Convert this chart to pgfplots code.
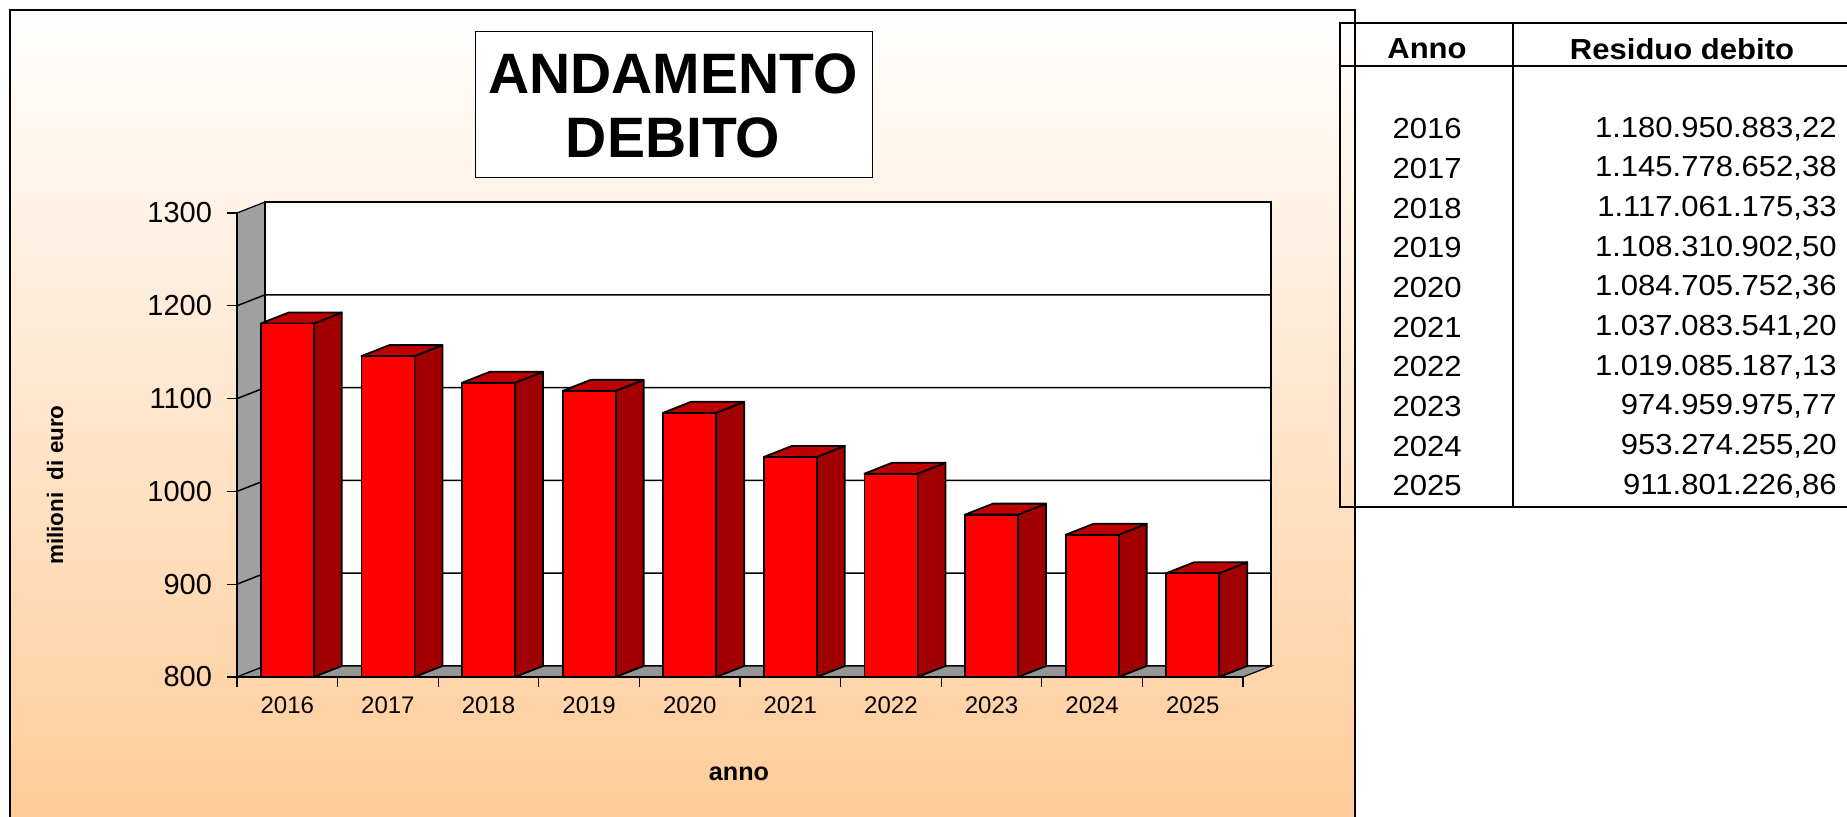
\documentclass[border=0pt]{standalone}
\usepackage{fontspec}
\setmainfont{Liberation Sans}
\usepackage{graphicx}
\usepackage{pgfplots}
\pgfplotsset{compat=1.18}
\usepackage{pgfplotstable}

\definecolor{peach}{RGB}{255,204,153}
\definecolor{barfront}{RGB}{255,0,0}
\definecolor{barside}{RGB}{160,0,0}
\definecolor{bartop}{RGB}{192,0,0}
\definecolor{wallgray}{RGB}{160,160,160}
\definecolor{floorgray}{RGB}{150,150,150}

\pgfdeclareplotmark{nothing}{}

\pgfplotstableread{
x year v
0 2016 1180.95
1 2017 1145.78
2 2018 1117.06
3 2019 1108.31
4 2020 1084.71
5 2021 1037.08
6 2022 1019.09
7 2023 974.96
8 2024 953.27
9 2025 911.80
}\debito

\newcommand{\tabfont}{\fontsize{14.5pt}{16pt}\selectfont}
\newcommand{\tx}[1]{\scalebox{1.07}[1]{#1}}

\begin{document}
\begin{tikzpicture}
\fill[white] (0,0) rectangle (923.5pt,408pt);
\begin{scope}[yshift=408pt, x=0.5pt, y=-0.5pt]
  % panel
  \shade[top color=white, bottom color=peach] (10,10) rectangle (1355,816);
  \draw[line width=0.8pt] (10,818) -- (10,10) -- (1355,10) -- (1355,818);
  % title
  \draw[fill=white, line width=0.5pt] (475,32) rectangle (872,177);
  \node[font=\bfseries\fontsize{28.5pt}{30pt}\selectfont, inner sep=0pt] at (673,74) {ANDAMENTO};
  \node[font=\bfseries\fontsize{28.5pt}{30pt}\selectfont, inner sep=0pt] at (673,138) {DEBITO};
  % walls
  \filldraw[fill=wallgray, line width=0.6pt] (237,677) -- (237,213) -- (265,202) -- (265,666) -- cycle;
  \filldraw[fill=white, line width=0.6pt] (265,202) rectangle (1271,666);
  \filldraw[fill=floorgray, line width=0.6pt] (237,677) -- (1243,677) -- (1271,666) -- (265,666) -- cycle;
  \foreach \yy in {900,1000,1100,1200} {
    \draw[line width=0.75pt] (237,{677-(\yy-800)*0.928}) -- ++(28,-11) -- (1271,{666-(\yy-800)*0.928});
  }
  % axis titles
  \node[font=\bfseries\fontsize{11.2pt}{13pt}\selectfont, rotate=90, inner sep=0pt] at (55,485) {milioni\ \ di euro};
  \node[font=\bfseries\fontsize{12.6pt}{14pt}\selectfont, inner sep=0pt] at (739,774) {anno};
\end{scope}

\begin{axis}[
  at={(118.5pt,69.5pt)}, anchor=south west,
  x=50.3pt, y=0.464pt,
  xmin=-0.5, xmax=9.5, ymin=800, ymax=1300,
  clip=false,
  axis x line*=bottom, axis y line*=left,
  axis line style={-, line width=0.8pt, black},
  xtick={0,...,9},
  xticklabels={2016,2017,2018,2019,2020,2021,2022,2023,2024,2025},
  ytick={800,900,...,1300},
  minor xtick={-0.5,0.5,...,9.5},
  minor ytick={800,900,...,1300},
  tick align=outside,
  major tick length=0pt,
  minor tick length=5pt,
  every tick/.style={black, line width=0.6pt},
  /pgf/number format/assume math mode=true,
  /pgf/number format/1000 sep={},
  xticklabel style={font=\fontsize{12pt}{14pt}\selectfont, yshift=-6.5pt},
  yticklabel style={font=\fontsize{14.5pt}{16pt}\selectfont, xshift=-9pt},
]
\addplot[scatter, only marks, mark=nothing,
  point meta=y, point meta min=800, point meta max=1300,
  scatter/@pre marker code/.code={%
    \pgfmathsetlengthmacro\h{\pgfplotspointmetatransformed*0.232pt}%
    \begin{scope}[line width=0.9pt, draw=black, line join=round]
    \filldraw[fill=barside] (13.25pt,0pt) -- ++(14pt,5.5pt) -- ++(0pt,-\h) -- (13.25pt,-\h) -- cycle;
    \filldraw[fill=bartop] (-13.25pt,0pt) -- (13.25pt,0pt) -- ++(14pt,5.5pt) -- ++(-26.5pt,0pt) -- cycle;
    \filldraw[fill=barfront] (-13.25pt,-\h) rectangle (13.25pt,0pt);
    \end{scope}%
  },
  scatter/@post marker code/.code={},
] table[x=x, y=v] {\debito};
\end{axis}

\begin{scope}[yshift=408pt, x=0.5pt, y=-0.5pt]
  \draw[line width=1pt] (1850,23) -- (1340,23) -- (1340,507) -- (1850,507);
  \draw[line width=1pt] (1340,66) -- (1850,66);
  \draw[line width=1pt] (1513,23) -- (1513,507);
  \node[font=\bfseries\tabfont, inner sep=0pt] at (1427,49) {\tx{Anno}};
  \node[font=\bfseries\tabfont, inner sep=0pt] at (1682,49) {\tx{Residuo debito}};
  \begin{scope}[every node/.style={font=\tabfont, inner sep=0pt}]
  \node at (1427,129.0) {\tx{2016}}; \node[anchor=east] at (1837,129.0) {\tx{1.180.950.883,22}};
  \node at (1427,168.7) {\tx{2017}}; \node[anchor=east] at (1837,168.7) {\tx{1.145.778.652,38}};
  \node at (1427,208.3) {\tx{2018}}; \node[anchor=east] at (1837,208.3) {\tx{1.117.061.175,33}};
  \node at (1427,248.0) {\tx{2019}}; \node[anchor=east] at (1837,248.0) {\tx{1.108.310.902,50}};
  \node at (1427,287.7) {\tx{2020}}; \node[anchor=east] at (1837,287.7) {\tx{1.084.705.752,36}};
  \node at (1427,327.3) {\tx{2021}}; \node[anchor=east] at (1837,327.3) {\tx{1.037.083.541,20}};
  \node at (1427,367.0) {\tx{2022}}; \node[anchor=east] at (1837,367.0) {\tx{1.019.085.187,13}};
  \node at (1427,406.7) {\tx{2023}}; \node[anchor=east] at (1837,406.7) {\tx{974.959.975,77}};
  \node at (1427,446.3) {\tx{2024}}; \node[anchor=east] at (1837,446.3) {\tx{953.274.255,20}};
  \node at (1427,486.0) {\tx{2025}}; \node[anchor=east] at (1837,486.0) {\tx{911.801.226,86}};
  \end{scope}
\end{scope}
\pgfresetboundingbox
\useasboundingbox (0,0) rectangle (923.5pt,408pt);
\end{tikzpicture}
\end{document}
